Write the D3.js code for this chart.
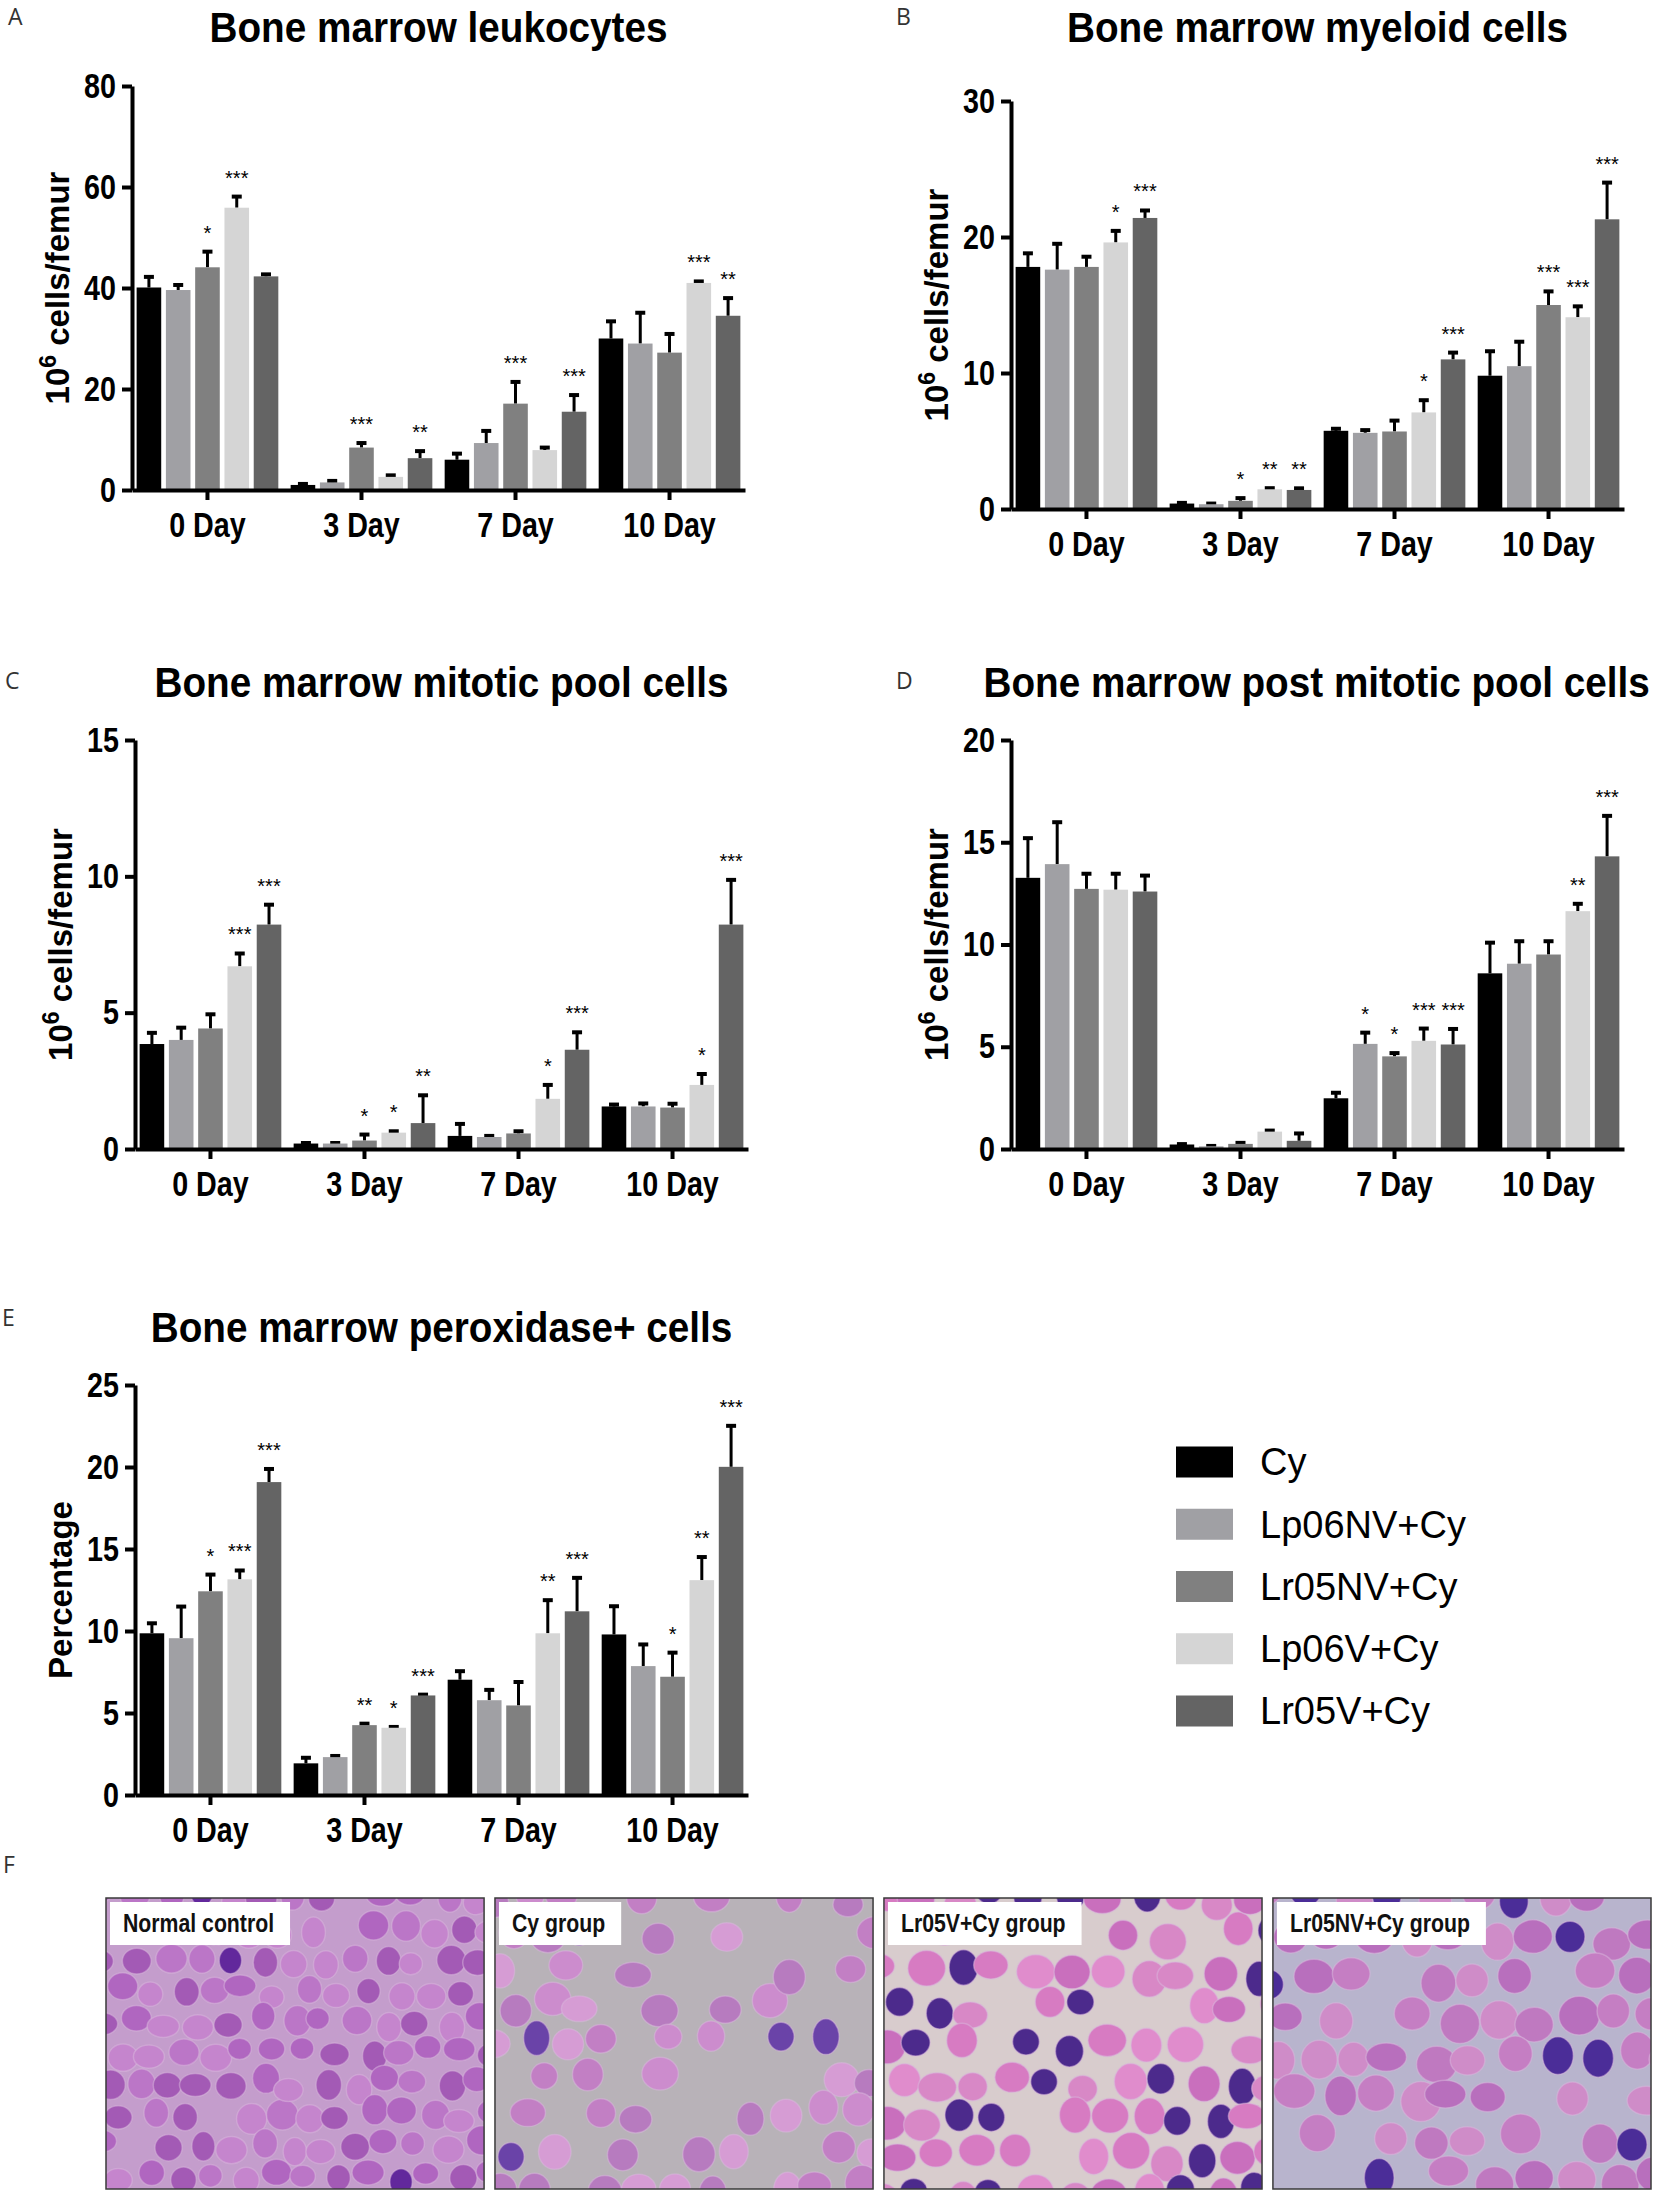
<!DOCTYPE html>
<html>
<head>
<meta charset="utf-8">
<script src="https://cdn.jsdelivr.net/npm/d3@7"></script>
<style>
  html, body { margin: 0; padding: 0; background: #fff; }
  svg { display: block; }
</style>
</head>
<body>
<svg id="fig" width="1654" height="2198"></svg>
<script>
// ---- data ----
const days = ['0 Day', '3 Day', '7 Day', '10 Day'];
const groups = ['Cy', 'Lp06NV+Cy', 'Lr05NV+Cy', 'Lp06V+Cy', 'Lr05V+Cy'];

// A: leukocytes (10^6 cells/femur), rows = days, cols = groups
const leukocytesMean = [[40.1, 39.6, 44.1, 55.9, 42.3], [1.0, 1.5, 8.4, 2.6, 6.3], [6.0, 9.3, 17.1, 7.9, 15.5], [30.0, 29.0, 27.2, 41.0, 34.5]];
const leukocytesSem = [[2.1, 1.0, 3.1, 2.2, 0.4], [0.2, 0.3, 0.9, 0.3, 1.4], [1.2, 2.4, 4.3, 0.5, 3.3], [3.4, 6.1, 3.7, 0.3, 3.5]];
const leukocytesStars = [['', '', '*', '***', ''], ['', '', '***', '', '**'], ['', '', '***', '', '***'], ['', '', '', '***', '**']];
const leukocytesTicks = [0, 20, 40, 60, 80];

// B: myeloid cells
const myeloidMean = [[17.8, 17.6, 17.8, 19.6, 21.4], [0.4, 0.35, 0.6, 1.45, 1.4], [5.75, 5.6, 5.7, 7.1, 11.0], [9.8, 10.5, 15.0, 14.1, 21.3]];
const myeloidSem = [[1.0, 1.9, 0.75, 0.85, 0.55], [0.05, 0.05, 0.2, 0.08, 0.12], [0.15, 0.2, 0.8, 0.9, 0.5], [1.8, 1.8, 1.0, 0.8, 2.7]];
const myeloidStars = [['', '', '', '*', '***'], ['', '', '*', '**', '**'], ['', '', '', '*', '***'], ['', '', '***', '***', '***']];
const myeloidTicks = [0, 10, 20, 30];

// C: mitotic pool cells
const mitoticMean = [[3.85, 4.0, 4.42, 6.7, 8.23], [0.2, 0.2, 0.31, 0.6, 0.95], [0.48, 0.44, 0.57, 1.84, 3.64], [1.56, 1.56, 1.52, 2.35, 8.23]];
const mitoticSem = [[0.41, 0.45, 0.52, 0.47, 0.73], [0.02, 0.02, 0.22, 0.05, 1.02], [0.44, 0.04, 0.08, 0.51, 0.64], [0.07, 0.11, 0.14, 0.4, 1.64]];
const mitoticStars = [['', '', '', '***', '***'], ['', '', '*', '*', '**'], ['', '', '', '*', '***'], ['', '', '', '*', '***']];
const mitoticTicks = [0, 5, 10, 15];

// D: post mitotic pool cells
const postMitoticMean = [[13.26, 13.93, 12.72, 12.68, 12.59], [0.22, 0.13, 0.25, 0.85, 0.4], [2.48, 5.14, 4.53, 5.29, 5.11], [8.59, 9.06, 9.51, 11.63, 14.31]];
const postMitoticSem = [[1.94, 2.05, 0.74, 0.78, 0.78], [0.02, 0.02, 0.05, 0.05, 0.36], [0.27, 0.55, 0.16, 0.6, 0.76], [1.5, 1.1, 0.65, 0.36, 1.98]];
const postMitoticStars = [['', '', '', '', ''], ['', '', '', '', ''], ['', '*', '*', '***', '***'], ['', '', '', '**', '***']];
const postMitoticTicks = [0, 5, 10, 15, 20];

// E: peroxidase+ cells (percentage)
const peroxidaseMean = [[9.86, 9.56, 12.42, 13.15, 19.08], [1.93, 2.31, 4.26, 4.1, 6.07], [7.03, 5.78, 5.46, 9.86, 11.2], [9.79, 7.86, 7.21, 13.1, 20.01]];
const peroxidaseSem = [[0.61, 1.93, 1.02, 0.54, 0.8], [0.34, 0.07, 0.09, 0.05, 0.05], [0.52, 0.63, 1.43, 2.02, 2.04], [1.72, 1.32, 1.47, 1.41, 2.5]];
const peroxidaseStars = [['', '', '*', '***', '***'], ['', '', '**', '*', '***'], ['', '', '', '**', '***'], ['', '', '*', '**', '***']];
const peroxidaseTicks = [0, 5, 10, 15, 20, 25];

// F: micrograph captions
const photoLabels = ['Normal control', 'Cy group', 'Lr05V+Cy group', 'Lr05NV+Cy group'];

// ---- styling ----
const groupColors = ['#000000', '#a0a0a4', '#808080', '#d5d5d5', '#646464'];
const sans = "'Liberation Sans', Arial, sans-serif";
const squeeze = 0.82; // condensed look for tick / category labels
const plotW = 613;

const svg = d3.select('#fig');
svg.append('rect').attr('width', 1654).attr('height', 2198).attr('fill', '#fff');

const panels = [
  { letter: 'A', lx: 8, ly: 25, title: 'Bone marrow leukocytes', mean: leukocytesMean, sem: leukocytesSem, stars: leukocytesStars, ticks: leukocytesTicks, yLabel: 'cells', left: 132, zero: 490, top: 86, titleY: 42 },
  { letter: 'B', lx: 896, ly: 25, title: 'Bone marrow myeloid cells', mean: myeloidMean, sem: myeloidSem, stars: myeloidStars, ticks: myeloidTicks, yLabel: 'cells', left: 1011, zero: 509, top: 101, titleY: 42 },
  { letter: 'C', lx: 5, ly: 689, title: 'Bone marrow mitotic pool cells', mean: mitoticMean, sem: mitoticSem, stars: mitoticStars, ticks: mitoticTicks, yLabel: 'cells', left: 135, zero: 1149, top: 740, titleY: 697 },
  { letter: 'D', lx: 896, ly: 689, title: 'Bone marrow post mitotic pool cells', mean: postMitoticMean, sem: postMitoticSem, stars: postMitoticStars, ticks: postMitoticTicks, yLabel: 'cells', left: 1011, zero: 1149, top: 740, titleY: 697 },
  { letter: 'E', lx: 2, ly: 1326, title: 'Bone marrow peroxidase+ cells', mean: peroxidaseMean, sem: peroxidaseSem, stars: peroxidaseStars, ticks: peroxidaseTicks, yLabel: 'pct', left: 135, zero: 1795, top: 1385, titleY: 1342 },
];

function drawPanel(p) {
  const g = svg.append('g');
  const x0 = d3.scaleBand(days, [p.left, p.left + plotW]).paddingInner(0.08).paddingOuter(0.03);
  const x1 = d3.scaleBand(groups, [0, x0.bandwidth()]).paddingInner(0.16);
  const y = d3.scaleLinear([0, d3.max(p.ticks)], [p.zero, p.top]);
  const rows = days.flatMap((d, i) => groups.map((s, j) => ({ day: d, group: s, k: j, mean: p.mean[i][j], sem: p.sem[i][j], star: p.stars[i][j] })));
  const cx = (d) => x0(d.day) + x1(d.group) + x1.bandwidth() / 2;

  g.append('text').attr('x', p.lx).attr('y', p.ly).attr('font-family', "'Open Sans', sans-serif").attr('font-size', 23).attr('fill', '#333').text(p.letter);
  const title = g.append('text').attr('text-anchor', 'middle')
    .attr('font-family', sans).attr('font-weight', 'bold').attr('font-size', 43).text(p.title);
  // keep the title inside the page: shift left if the right edge would overflow
  const half = title.node().getComputedTextLength() * 0.9 / 2;
  const tx = Math.min(p.left + plotW / 2, 1650 - half);
  title.attr('transform', `translate(${tx},${p.titleY}) scale(0.9,1)`);

  // error bars (upper only) drawn under bars
  const err = g.append('g').attr('stroke', '#000');
  err.selectAll('line.v').data(rows).join('line').attr('class', 'v')
    .attr('x1', cx).attr('x2', cx).attr('y1', (d) => y(d.mean)).attr('y2', (d) => y(d.mean + d.sem)).attr('stroke-width', 3);
  err.selectAll('line.c').data(rows).join('line').attr('class', 'c')
    .attr('x1', (d) => cx(d) - 5).attr('x2', (d) => cx(d) + 5).attr('y1', (d) => y(d.mean + d.sem)).attr('y2', (d) => y(d.mean + d.sem)).attr('stroke-width', 4);

  g.append('g').selectAll('rect').data(rows).join('rect')
    .attr('x', (d) => x0(d.day) + x1(d.group)).attr('y', (d) => y(d.mean))
    .attr('width', x1.bandwidth()).attr('height', (d) => p.zero - y(d.mean)).attr('fill', (d) => groupColors[d.k]);

  g.append('g').selectAll('text').data(rows.filter((d) => d.star)).join('text')
    .attr('x', cx).attr('y', (d) => y(d.mean + d.sem) - 12).attr('text-anchor', 'middle')
    .attr('font-family', sans).attr('font-size', 20).text((d) => d.star);

  const ya = g.append('g').attr('transform', `translate(${p.left},0)`)
    .call(d3.axisLeft(y).tickValues(p.ticks).tickSize(10).tickSizeOuter(0).tickPadding(6));
  ya.attr('font-family', sans).attr('font-size', 35).attr('font-weight', 'bold');
  ya.selectAll('path, line').attr('stroke-width', 4);
  ya.selectAll('text').attr('x', -16 / squeeze).attr('transform', `scale(${squeeze},1)`);

  const xa = g.append('g').attr('transform', `translate(0,${p.zero})`)
    .call(d3.axisBottom(x0).tickSize(10).tickSizeOuter(0).tickPadding(12));
  xa.attr('font-family', sans).attr('font-size', 35).attr('font-weight', 'bold');
  xa.selectAll('path, line').attr('stroke-width', 4);
  xa.selectAll('text').attr('transform', `scale(${squeeze},1)`);

  const lab = g.append('text').attr('transform', `translate(${p.left - 63},${(p.zero + p.top) / 2}) rotate(-90)`)
    .attr('text-anchor', 'middle').attr('font-family', sans).attr('font-weight', 'bold').attr('font-size', 33);
  if (p.yLabel === 'cells') {
    lab.append('tspan').text('10');
    lab.append('tspan').attr('dy', -13).attr('font-size', 23).text('6');
    lab.append('tspan').attr('dy', 13).text(' cells/femur');
  } else {
    lab.text('Percentage');
  }
}

panels.forEach(drawPanel);

// legend
const legend = svg.append('g').attr('transform', 'translate(1176,1462)');
const legendY = d3.scalePoint(groups, [0, 249]);
legend.selectAll('rect').data(groups).join('rect')
  .attr('x', 0).attr('y', (d) => legendY(d) - 15.5).attr('width', 57).attr('height', 31)
  .attr('fill', (d, i) => groupColors[i]);
legend.selectAll('text').data(groups).join('text')
  .attr('x', 84).attr('y', (d) => legendY(d)).attr('dy', '0.35em')
  .attr('font-family', sans).attr('font-size', 38).text((d) => d);

// ---- F: micrograph panels (stylised stain texture) ----
svg.append('text').attr('x', 3).attr('y', 1873).attr('font-family', "'Open Sans', sans-serif").attr('font-size', 23).attr('fill', '#333').text('F');

const palettes = [
  { bg: '#c49dcc', cells: ['#b066c0', '#bb76c7', '#a35ab5', '#c585cd'], dark: '#62289c', darkRate: 0.06, skip: 0.04, step: 31 },
  { bg: '#b8b2b8', cells: ['#cc8ccd', '#c27fc4', '#d69cd4', '#b77bbf'], dark: '#6a43a8', darkRate: 0.05, skip: 0.38, step: 36 },
  { bg: '#d8cccd', cells: ['#d77bc2', '#e08ccc', '#c96fbd', '#d888c6'], dark: '#4c2a8c', darkRate: 0.2, skip: 0.15, step: 37 },
  { bg: '#b8b4cd', cells: ['#c57ec3', '#b86fbd', '#cf8cc8', '#bf79c0'], dark: '#4b2d98', darkRate: 0.16, skip: 0.14, step: 40 },
];
const photoX = d3.scaleBand(photoLabels, [106, 1651]).paddingInner(0.028);
const photoTop = 1898, photoH = 291;
const frac = (v) => v - Math.floor(v);
const hash = (a, b, c) => frac(Math.sin(a * 127.1 + b * 311.7 + c * 74.7) * 43758.5453);

photoLabels.forEach((label, idx) => {
  const px = photoX(label), pw = photoX.bandwidth(), pal = palettes[idx];
  const clipId = `clip${idx}`;
  svg.append('clipPath').attr('id', clipId).append('rect').attr('x', px).attr('y', photoTop).attr('width', pw).attr('height', photoH);
  const g = svg.append('g').attr('clip-path', `url(#${clipId})`);
  g.append('rect').attr('x', px).attr('y', photoTop).attr('width', pw).attr('height', photoH).attr('fill', pal.bg);
  const cols = Math.ceil(pw / pal.step) + 1, rowsN = Math.ceil(photoH / pal.step) + 1;
  const cells = d3.cross(d3.range(cols), d3.range(rowsN)).map(([i, j]) => ({
    i, j, h1: hash(i, j, idx), h2: hash(j, i, idx + 3), h3: hash(i + 7, j + 2, idx), h4: hash(i + 3, j + 9, idx + 1),
  })).filter((c) => c.h3 >= pal.skip);
  g.selectAll('ellipse').data(cells).join('ellipse')
    .attr('cx', (c) => px + c.i * pal.step + (c.j % 2) * pal.step / 2 + (c.h1 - 0.5) * pal.step * 0.4)
    .attr('cy', (c) => photoTop + c.j * pal.step + (c.h2 - 0.5) * pal.step * 0.4)
    .attr('rx', (c) => pal.step * (0.36 + c.h4 * 0.16))
    .attr('ry', (c) => pal.step * (0.34 + c.h1 * 0.16))
    .attr('fill', (c) => (c.h4 < pal.darkRate ? pal.dark : pal.cells[Math.floor(c.h2 * pal.cells.length)]))
    .attr('stroke', '#d9b8dd').attr('stroke-opacity', 0.5).attr('stroke-width', 1.5);
  svg.append('rect').attr('x', px).attr('y', photoTop).attr('width', pw).attr('height', photoH)
    .attr('fill', 'none').attr('stroke', '#3a3a3a').attr('stroke-width', 1.5);
  const box = svg.append('rect').attr('x', px + 4).attr('y', photoTop + 4).attr('height', 43).attr('fill', '#fff');
  const t = svg.append('text').attr('transform', `translate(${px + 17},${photoTop + 34}) scale(0.85,1)`)
    .attr('font-family', sans).attr('font-weight', 'bold').attr('font-size', 25).attr('fill', '#111').text(label);
  box.attr('width', t.node().getComputedTextLength() * 0.85 + 29);
});
</script>
</body>
</html>
